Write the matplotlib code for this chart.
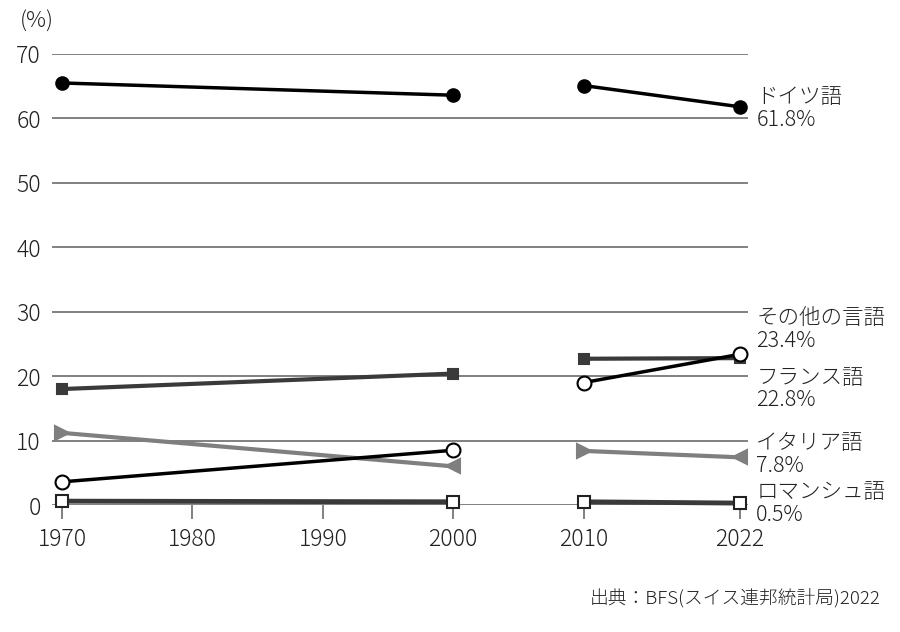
import matplotlib.pyplot as plt

plt.rcParams['font.family'] = ['Noto Sans CJK JP', 'DejaVu Sans']
plt.rcParams['font.weight'] = 'light'

# 言語別の割合 (%), 2000年と2010年の間で線を切る
years_a = [1970, 2000]
years_b = [2010, 2022]

german = [65.5, 63.6, 65.1, 61.8]
other = [3.6, 8.5, 19.0, 23.4]
french = [18.0, 20.4, 22.7, 22.8]
italian = [11.2, 6.0, 8.4, 7.4]
romansh = [0.6, 0.5, 0.5, 0.3]

names = ['ドイツ語', 'その他の言語', 'フランス語', 'イタリア語', 'ロマンシュ語']
last_labels = ['61.8%', '23.4%', '22.8%', '7.8%', '0.5%']
label_y = [61.6, 27.2, 18.0, 7.9, 0.2]

xticks = [1970, 1980, 1990, 2000, 2010, 2022]
yticks = [0, 10, 20, 30, 40, 50, 60, 70]

fig = plt.figure(figsize=(9, 6.32), dpi=100)
ax = fig.add_axes([0.0578, 0.2009, 0.7732, 0.7137])

for y in yticks:
    ax.axhline(y, color='#808080', lw=1.4, zorder=1)


def draw(vals, color, lw, m1, m2, ms, fc, ec, z):
    for xs, vs in ((years_a, vals[:2]), (years_b, vals[2:])):
        ax.plot(xs, vs, color=color, lw=lw, zorder=z, clip_on=False)
        ax.plot(xs[0], vs[0], marker=m1, ms=ms, mfc=fc, mec=ec, mew=1.5,
                zorder=z + 1, clip_on=False, ls='none')
        ax.plot(xs[1], vs[1], marker=m2, ms=ms, mfc=fc, mec=ec, mew=1.5,
                zorder=z + 1, clip_on=False, ls='none')


draw(italian, '#7f7f7f', 3, '>', '<', 10, '#7f7f7f', '#7f7f7f', 3)
draw(french, '#3a3a3a', 3, 's', 's', 7.5, '#3a3a3a', '#3a3a3a', 4)
draw(romansh, '#3a3a3a', 3.5, 's', 's', 9, 'white', '#222222', 5)
draw(other, 'black', 2.5, 'o', 'o', 10, 'white', 'black', 6)
draw(german, 'black', 2.5, 'o', 'o', 9, 'black', 'black', 7)

ax.set_xlim(1969.23, 2022.6)
ax.set_ylim(0, 70)
ax.set_xticks(xticks)
ax.set_xticklabels([str(x) for x in xticks])
ax.set_yticks(yticks)
ax.set_yticklabels([str(y) for y in yticks])
for s in ax.spines.values():
    s.set_visible(False)
ax.tick_params(axis='y', length=0, labelsize=16.5, pad=8, colors='#222222')
ax.tick_params(axis='x', length=10, width=1.4, color='#808080',
               labelsize=16.5, pad=6, labelcolor='#222222')

for name, lab, ly in zip(names, last_labels, label_y):
    ax.text(1.012, ly, name + '\n' + lab, transform=ax.get_yaxis_transform(),
            fontsize=15.5, va='center', ha='left', color='#222222',
            linespacing=1.05)

fig.text(0.022, 0.965, '(%)', fontsize=16, va='center', ha='left',
         color='#222222')
fig.text(0.978, 0.053, '出典：BFS(スイス連邦統計局)2022', fontsize=13.5,
         va='center', ha='right', color='#222222')

fig.savefig('out.png', dpi=100)
